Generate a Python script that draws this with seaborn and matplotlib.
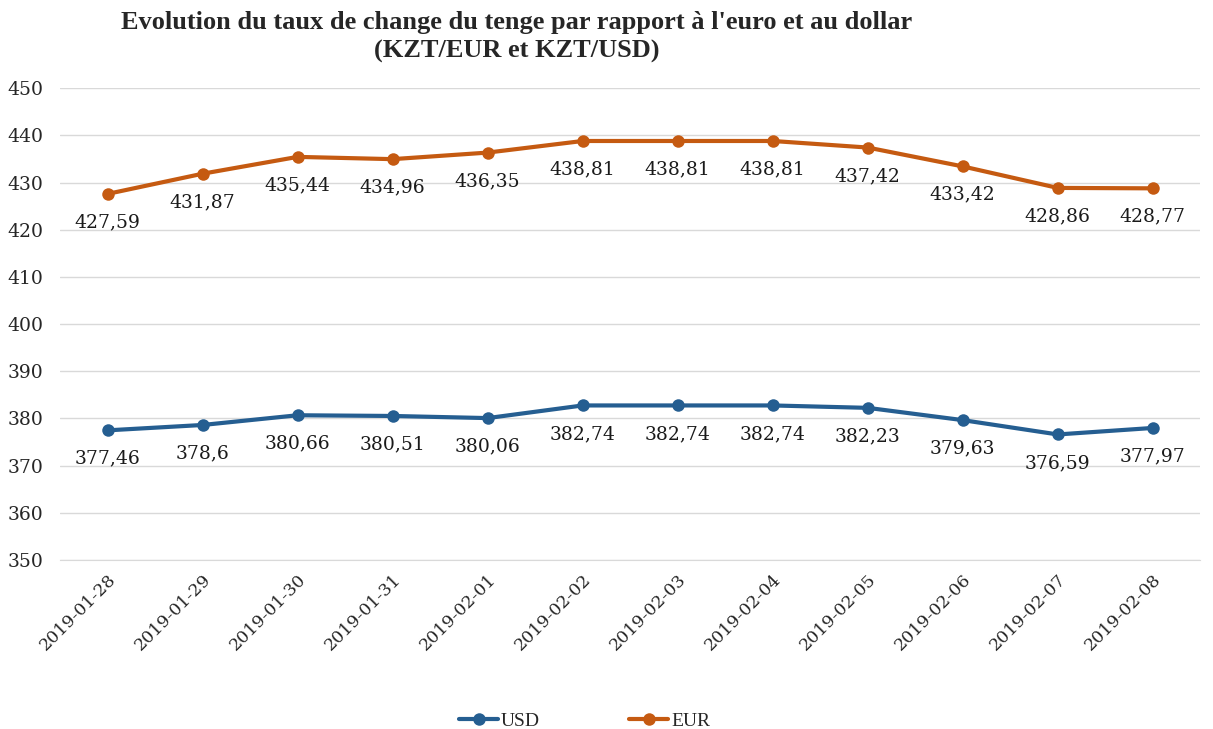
import matplotlib
matplotlib.use("Agg")
import matplotlib.pyplot as plt
import seaborn as sns
import pandas as pd
import numpy as np

# donnees
dates = ["2019-01-28", "2019-01-29", "2019-01-30", "2019-01-31", "2019-02-01", "2019-02-02",
         "2019-02-03", "2019-02-04", "2019-02-05", "2019-02-06", "2019-02-07", "2019-02-08"]
usd = [377.46, 378.6, 380.66, 380.51, 380.06, 382.74, 382.74, 382.74, 382.23, 379.63, 376.59, 377.97]
eur = [427.59, 431.87, 435.44, 434.96, 436.35, 438.81, 438.81, 438.81, 437.42, 433.42, 428.86, 428.77]

colors = {"USD": "#255e91", "EUR": "#c55a11"}

df = pd.DataFrame({"date": dates, "USD": usd, "EUR": eur})
long = df.melt(id_vars="date", var_name="devise", value_name="taux")
long["pos"] = long["date"].map({d: i for i, d in enumerate(dates)})

sns.set_style("white")
plt.rcParams["font.family"] = ["DejaVu Serif"]

fig = plt.figure(figsize=(12.13, 7.29), dpi=100)
ax = fig.add_axes([0.0495, 0.232, 0.94, 0.647])

sns.lineplot(data=long, x="pos", y="taux", hue="devise", hue_order=["USD", "EUR"],
             palette=colors, marker="o", markersize=9, markeredgewidth=0,
             linewidth=3, ax=ax, legend=False)

# etiquettes des valeurs sous les points
for serie in ["USD", "EUR"]:
    for i, v in enumerate(df[serie]):
        lab = f"{v:g}".replace(".", ",")
        ax.annotate(lab, (i, v), xytext=(0, -14), textcoords="offset points",
                    ha="center", va="top", fontsize=13.5, color="#1a1a1a")

ax.set_xlim(-0.5, len(dates) - 0.5)
ax.set_ylim(350, 450)
ax.set_yticks(np.arange(350, 451, 10))
ax.set_xticks(range(len(dates)))
ax.set_xticklabels(dates, rotation=45, ha="right", rotation_mode="anchor", fontsize=12.5)
ax.tick_params(axis="y", labelsize=13.5, length=0, pad=12)
ax.tick_params(axis="x", length=0, pad=8)
ax.grid(axis="y", color="#d9d9d9", linewidth=1)
for s in ["top", "right", "left"]:
    ax.spines[s].set_visible(False)
ax.spines["bottom"].set_color("#d9d9d9")
ax.set_xlabel("")
ax.set_ylabel("")

fig.text(0.426, 0.985, "Evolution du taux de change du tenge par rapport à l'euro et au dollar\n(KZT/EUR et KZT/USD)",
         ha="center", va="top", fontsize=19, fontweight="bold", family="Liberation Serif",
         linespacing=1.3)

# legende
handles = [plt.Line2D([], [], color=colors[k], marker="o", markersize=9, linewidth=3,
                      markeredgewidth=0, label=k) for k in ["USD", "EUR"]]
fig.legend(handles=handles, loc="lower center", bbox_to_anchor=(0.482, -0.025), ncol=2,
           frameon=False, columnspacing=4.6, handlelength=2.0, handletextpad=0.15,
           prop={"family": "Liberation Serif", "size": 14})

fig.savefig("out.png", dpi=100)
